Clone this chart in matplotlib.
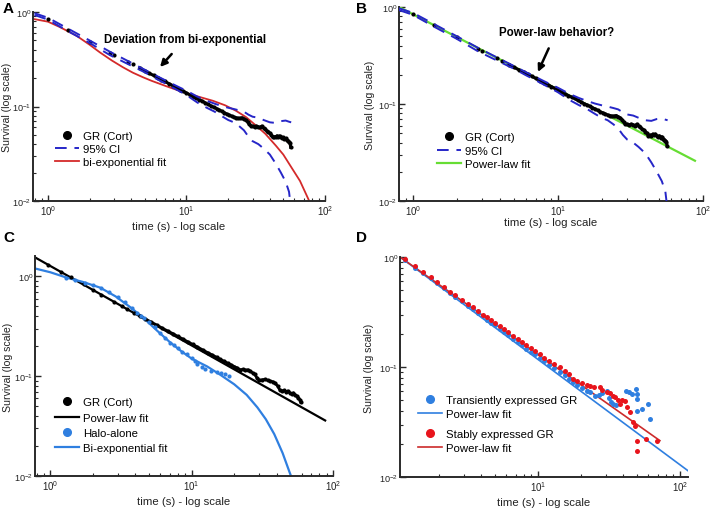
import matplotlib
matplotlib.use("Agg")
import matplotlib.pyplot as plt
from matplotlib.lines import Line2D

plt.rcParams['font.family'] = ['Liberation Sans', 'DejaVu Sans']
plt.rcParams['mathtext.default'] = 'regular'

# ---------------- data ----------------
# GR (Cort) survival, panels A and B
gr_t = [1.0, 1.4, 2.0, 2.8, 3.0, 3.8, 4.1, 4.6, 5.0, 5.4, 5.8, 6.2, 6.6, 7.0, 7.5, 8.0, 8.5, 9.0, 9.5,
        10, 10.6, 11.2, 11.8, 12.4, 13, 13.7, 14.4, 15.1, 15.8, 16.5, 17.2, 18, 18.8, 19.6, 20.4, 21.2,
        22, 22.8, 23.6, 24.4, 25.2, 26, 26.8, 27.6, 28.4, 29.2, 30, 31, 32, 33, 34, 35, 36, 37, 38, 39,
        40, 41, 42, 43, 44, 45, 46, 47, 48, 49, 50, 51, 52, 53, 54, 55, 56, 56.5]
gr_s = [0.85, 0.645, 0.485, 0.37, 0.355, 0.295, 0.28, 0.255, 0.238, 0.224, 0.213, 0.202, 0.193, 0.184,
        0.174, 0.166, 0.158, 0.151, 0.145, 0.139, 0.133, 0.127, 0.122, 0.118, 0.114, 0.109, 0.105, 0.101,
        0.098, 0.095, 0.092, 0.089, 0.086, 0.083, 0.081, 0.079, 0.077, 0.076, 0.075, 0.075, 0.076, 0.074,
        0.072, 0.069, 0.065, 0.062, 0.062, 0.061, 0.062, 0.061, 0.060, 0.062, 0.059, 0.058, 0.055, 0.054,
        0.052, 0.050, 0.047, 0.048, 0.047, 0.049, 0.048, 0.049, 0.047, 0.046, 0.047, 0.045, 0.046, 0.044,
        0.043, 0.042, 0.041, 0.037]

ci_t = [0.8, 1.0, 1.4, 2.0, 2.8, 4.0, 5.0, 6.0, 7.0, 8.0, 9.0, 10, 12, 14, 16, 18, 20, 22, 24, 26, 28,
        30, 33, 36, 40, 44, 48, 52, 55, 57]
ci_upper = [0.97, 0.87, 0.665, 0.50, 0.38, 0.29, 0.245, 0.213, 0.19, 0.172, 0.158, 0.147, 0.127, 0.115,
            0.107, 0.101, 0.097, 0.094, 0.091, 0.088, 0.082, 0.078, 0.076, 0.072, 0.068, 0.067, 0.070,
            0.071, 0.069, 0.068]
ci_lower = [0.93, 0.83, 0.625, 0.47, 0.35, 0.27, 0.23, 0.198, 0.176, 0.158, 0.144, 0.132, 0.110, 0.097,
            0.088, 0.079, 0.072, 0.068, 0.062, 0.056, 0.048, 0.043, 0.040, 0.036, 0.031, 0.025, 0.020,
            0.016, 0.0125, 0.008]

# bi-exponential fit (A)
biexp_a_t = [0.8, 1.0, 1.2, 1.44, 1.61, 2.0, 2.37, 2.9, 3.48, 4.1, 4.85, 5.6, 6.4, 7.14, 8.5, 9.95, 12,
             15.5, 19, 22.8, 27, 31.7, 37, 44.2, 50, 58.2, 66, 76.7, 80]
biexp_a_s = [0.84, 0.79, 0.70, 0.61, 0.56, 0.45, 0.374, 0.306, 0.26, 0.228, 0.204, 0.187, 0.174, 0.164,
             0.150, 0.139, 0.128, 0.115, 0.103, 0.090, 0.077, 0.063, 0.0516, 0.0385, 0.031, 0.0218,
             0.0163, 0.0101, 0.0085]

# power-law fit (B)
pl_b_t = [0.8, 88]
pl_b_s = [1.0, 0.026]

# panel C
grc_t = [0.97, 1.2, 1.4, 1.72, 2.0, 2.3, 2.81, 3.2, 3.5, 3.9, 4.3, 4.7, 5.2, 5.7, 6.2, 6.8, 7.4, 8.0,
         8.7, 9.4, 10.2, 11, 12, 13, 14, 15, 16, 17, 18, 19, 20, 21, 22, 23, 24, 25, 26, 27, 28, 29, 30,
         31.5, 33, 34.5, 36, 37.5, 39, 40.5, 42, 43.5, 45, 46.5, 48, 49.5, 51, 52.5, 54, 55.5, 57, 58.5, 59]
grc_s = [1.31, 1.10, 0.975, 0.83, 0.735, 0.655, 0.555, 0.505, 0.47, 0.43, 0.40, 0.375, 0.347, 0.324,
         0.303, 0.283, 0.266, 0.25, 0.235, 0.221, 0.208, 0.196, 0.183, 0.172, 0.163, 0.155, 0.147, 0.141,
         0.135, 0.130, 0.125, 0.121, 0.116, 0.117, 0.115, 0.116, 0.112, 0.108, 0.104, 0.096, 0.091,
         0.092, 0.093, 0.091, 0.089, 0.088, 0.085, 0.080, 0.073, 0.071, 0.072, 0.070, 0.071, 0.068,
         0.067, 0.068, 0.065, 0.063, 0.060, 0.058, 0.055]
pl_c_t = [0.78, 88]
pl_c_s = [1.55, 0.036]

halo_t = [1.3, 1.5, 1.77, 2.0, 2.3, 2.6, 3.0, 3.4, 3.8, 4.12, 4.4, 4.6, 5.0, 5.5, 6.0, 6.5, 7.0, 7.5, 8.0,
          8.6, 9.2, 10, 10.5, 11, 11.9, 12.5, 13.6, 15.0, 16.1, 17.2, 18.4]
halo_s = [0.97, 0.93, 0.865, 0.82, 0.76, 0.70, 0.62, 0.55, 0.48, 0.43, 0.40, 0.386, 0.35, 0.31, 0.27,
          0.24, 0.215, 0.205, 0.19, 0.176, 0.165, 0.152, 0.142, 0.133, 0.123, 0.118, 0.112, 0.110, 0.108,
          0.105, 0.100]
biexp_c_t = [0.78, 1.0, 1.31, 1.7, 2.26, 2.9, 3.69, 4.6, 5.71, 7.0, 8.36, 10, 12.9, 16, 20, 24.5, 29.2,
             33.5, 38.4, 44, 50.4, 52]
biexp_c_s = [1.20, 1.10, 0.97, 0.88, 0.77, 0.63, 0.49, 0.38, 0.285, 0.22, 0.18, 0.15, 0.125, 0.103,
             0.083, 0.065, 0.0486, 0.037, 0.0263, 0.017, 0.010, 0.0088]

# panel D
stable_t = [1.16, 1.36, 1.56, 1.76, 1.96, 2.19, 2.4, 2.6, 2.9, 3.23, 3.5, 3.8, 4.1, 4.4, 4.7, 5.0, 5.4,
            5.8, 6.2, 6.7, 7.2, 7.7, 8.3, 8.9, 9.5, 10.3, 11, 12, 13, 14.3, 15.5, 16.5, 17.7, 19, 20.5,
            22, 23.2, 25, 27.3, 28.5, 30.5, 32, 33.9, 35, 36.5, 37.8, 39, 41, 42.7, 44.5, 46.9, 48.2,
            49.5, 50, 58, 68.5]
stable_s = [0.95, 0.82, 0.73, 0.655, 0.59, 0.53, 0.48, 0.45, 0.41, 0.375, 0.35, 0.325, 0.30, 0.282,
            0.266, 0.252, 0.235, 0.22, 0.207, 0.193, 0.18, 0.17, 0.158, 0.148, 0.14, 0.131, 0.122, 0.113,
            0.106, 0.099, 0.092, 0.087, 0.078, 0.075, 0.071, 0.069, 0.0676, 0.066, 0.0655, 0.062, 0.059,
            0.058, 0.055, 0.053, 0.050, 0.046, 0.050, 0.049, 0.043, 0.0387, 0.0314, 0.0292, 0.0214,
            0.0174, 0.0222, 0.0214]
trans_t = [1.16, 1.36, 1.56, 1.76, 1.96, 2.19, 2.4, 2.6, 2.9, 3.23, 3.5, 3.8, 4.1, 4.4, 4.7, 5.0, 5.4,
           5.8, 6.2, 6.7, 7.2, 7.7, 8.3, 8.9, 9.5, 10.3, 11, 12, 13, 14.3, 15.5, 16.5, 17.7, 19, 20.5, 22,
           23.2, 25.2, 27, 28.5, 30.5, 31.5, 32.7, 34, 35.6, 42, 43.5, 45.7, 49, 49.5, 49.8, 50, 54.5,
           59.9, 61.5]
trans_s = [0.93, 0.80, 0.71, 0.64, 0.577, 0.52, 0.47, 0.435, 0.395, 0.36, 0.335, 0.31, 0.288, 0.27,
           0.253, 0.24, 0.223, 0.207, 0.195, 0.181, 0.169, 0.159, 0.147, 0.138, 0.13, 0.121, 0.113, 0.104,
           0.097, 0.09, 0.084, 0.078, 0.0726, 0.068, 0.064, 0.061, 0.059, 0.055, 0.056, 0.058, 0.061,
           0.052, 0.0478, 0.046, 0.045, 0.061, 0.059, 0.057, 0.0635, 0.057, 0.051, 0.040, 0.0415, 0.046,
           0.0337]
pl_trans_t = [1.07, 114]
pl_trans_s = [1.0, 0.0114]
pl_stable_t = [1.07, 72.3]
pl_stable_s = [1.0, 0.0214]

# ---------------- styling ----------------
W, H = 710, 510
fig = plt.figure(figsize=(W / 100, H / 100), dpi=100)


def rect(l, t, r, b):
    return [l / W, 1 - b / H, (r - l) / W, (b - t) / H]


FS = 8.2
BLUE_CI = '#2626c8'
GREEN = '#66dd33'
RED_FIT = '#d42a2a'
LBLUE = '#2f7fe0'
RED_D = '#e8141c'
RED_DFIT = '#cc2b2b'


def style(ax, xlim, ylim, xl_y, yl_x):
    ax.set_xscale('log')
    ax.set_yscale('log')
    ax.set_xlim(*xlim)
    ax.set_ylim(*ylim)
    for s in ['top', 'right']:
        ax.spines[s].set_visible(False)
    for s in ['left', 'bottom']:
        ax.spines[s].set_linewidth(1.4)
        ax.spines[s].set_color('#2a2a2a')
    ax.tick_params(which='both', direction='in', top=False, right=False,
                   color='#2a2a2a', labelcolor='#222222')
    ax.tick_params(axis='x', labelsize=7, pad=1.5)
    ax.tick_params(axis='y', labelsize=6.6, pad=1.0)
    ax.tick_params(which='major', length=4, width=1.0)
    ax.tick_params(which='minor', length=2.5, width=0.8)
    ax.set_xlabel('time (s) - log scale', fontsize=FS, color='#222222')
    ax.set_ylabel('Survival (log scale)', fontsize=7.6, color='#222222')
    ax.xaxis.set_label_coords(0.5, xl_y)
    ax.yaxis.set_label_coords(yl_x, 0.5)


def legend(ax, handles, labels, x0, y0, spacing=0.2):
    return ax.legend(handles, labels, loc='upper left', bbox_to_anchor=(x0, y0), frameon=False,
                     fontsize=FS, borderpad=0, borderaxespad=0, handlelength=2.1, handletextpad=0.35,
                     labelspacing=spacing)


def split_dense(t, s, t0):
    # index of first sample at/after t0: dense part drawn as a connected band
    i = next(k for k, v in enumerate(t) if v >= t0)
    return t[i:], s[i:]


dot = dict(marker='o', linestyle='none', mew=0)

# ---- A ----
axA = fig.add_axes(rect(33, 13, 325, 202))
dA_t, dA_s = split_dense(gr_t, gr_s, 4.6)
axA.plot(dA_t, dA_s, color='black', lw=2.2, zorder=3)
axA.plot(gr_t, gr_s, color='black', ms=3, zorder=3, **dot)
axA.plot(ci_t, ci_upper, color=BLUE_CI, lw=1.4, dashes=(6, 4), zorder=4)
axA.plot(ci_t, ci_lower, color=BLUE_CI, lw=1.4, dashes=(6, 4), zorder=4)
axA.plot(biexp_a_t, biexp_a_s, color=RED_FIT, lw=1.3, zorder=2)
style(axA, (0.78, 100), (0.01, 1), -0.105, -0.073)
hA = [Line2D([], [], color='black', marker='o', ms=5.5, linestyle='none'),
      Line2D([], [], color=BLUE_CI, lw=1.4, dashes=(6, 4)),
      Line2D([], [], color=RED_FIT, lw=1.3)]
legend(axA, hA, ['GR (Cort)', '95% CI', 'bi-exponential fit'], 0.075, 0.373, spacing=0.3)
axA.annotate('Deviation from bi-exponential', xy=(0.435, 0.709), xytext=(0.521, 0.857),
             xycoords='axes fraction', textcoords='axes fraction', ha='center', va='center',
             fontsize=8.3, fontweight='bold',
             arrowprops=dict(arrowstyle='-|>', lw=1.8, color='black', mutation_scale=10,
                             shrinkA=6, shrinkB=0))

# ---- B ----
axB = fig.add_axes(rect(399, 8, 703, 202))
axB.plot(pl_b_t, pl_b_s, color=GREEN, lw=1.6, zorder=2)
dB_t, dB_s = split_dense(gr_t, gr_s, 4.6)
axB.plot(dB_t, dB_s, color='black', lw=2.2, zorder=3)
axB.plot(gr_t, gr_s, color='black', ms=3, zorder=3, **dot)
axB.plot(ci_t, ci_upper, color=BLUE_CI, lw=1.4, dashes=(6, 4), zorder=4)
axB.plot(ci_t, ci_lower, color=BLUE_CI, lw=1.4, dashes=(6, 4), zorder=4)
style(axB, (0.8, 100), (0.01, 1), -0.085, -0.078)
hB = [Line2D([], [], color='black', marker='o', ms=5.5, linestyle='none'),
      Line2D([], [], color=BLUE_CI, lw=1.4, dashes=(6, 4)),
      Line2D([], [], color=GREEN, lw=1.6)]
legend(axB, hB, ['GR (Cort)', '95% CI', 'Power-law fit'], 0.125, 0.355, spacing=0.3)
axB.annotate('Power-law behavior?', xy=(0.457, 0.665), xytext=(0.517, 0.871),
             xycoords='axes fraction', textcoords='axes fraction', ha='center', va='center',
             fontsize=8.3, fontweight='bold',
             arrowprops=dict(arrowstyle='-|>', lw=1.8, color='black', mutation_scale=10,
                             shrinkA=6, shrinkB=0))

# ---- C ----
axC = fig.add_axes(rect(35, 257, 333, 477))
dC_t, dC_s = split_dense(grc_t, grc_s, 4.3)
axC.plot(dC_t, dC_s, color='black', lw=2.0, zorder=3)
axC.plot(grc_t, grc_s, color='black', ms=3, zorder=3, **dot)
axC.plot(pl_c_t, pl_c_s, color='black', lw=1.6, zorder=2)
axC.plot(halo_t, halo_s, color=LBLUE, ms=3, zorder=3, **dot)
axC.plot(biexp_c_t, biexp_c_s, color=LBLUE, lw=1.6, zorder=2)
style(axC, (0.78, 100), (0.01, 1.6), -0.09, -0.075)
hC = [Line2D([], [], color='black', marker='o', ms=5.5, linestyle='none'),
      Line2D([], [], color='black', lw=1.6),
      Line2D([], [], color=LBLUE, marker='o', ms=5.5, linestyle='none'),
      Line2D([], [], color=LBLUE, lw=1.6)]
legend(axC, hC, ['GR (Cort)', 'Power-law fit', 'Halo-alone', 'Bi-exponential fit'], 0.067, 0.357,
       spacing=0.45)

# ---- D ----
axD = fig.add_axes(rect(400, 258, 688, 478))
axD.plot(pl_trans_t, pl_trans_s, color=LBLUE, lw=1.2, zorder=2)
axD.plot(pl_stable_t, pl_stable_s, color=RED_DFIT, lw=1.2, zorder=2)
axD.plot(trans_t, trans_s, color=LBLUE, ms=3.6, zorder=3, **dot)
axD.plot(stable_t, stable_s, color=RED_D, ms=3.6, zorder=4, **dot)
style(axD, (1.07, 114), (0.01, 1), -0.09, -0.09)
hD1 = [Line2D([], [], color=LBLUE, marker='o', ms=5.5, linestyle='none'),
       Line2D([], [], color=LBLUE, lw=1.2)]
hD2 = [Line2D([], [], color=RED_D, marker='o', ms=5.5, linestyle='none'),
       Line2D([], [], color=RED_DFIT, lw=1.2)]
lg1 = legend(axD, hD1, ['Transiently expressed GR', 'Power-law fit'], 0.0625, 0.372, spacing=0.35)
axD.add_artist(lg1)
legend(axD, hD2, ['Stably expressed GR', 'Power-law fit'], 0.0625, 0.22, spacing=0.35)

# panel letters
for letter, (px, py) in zip('ABCD', [(3, 2), (356, 2), (3, 231), (356, 231)]):
    fig.text(px / W, 1 - py / H, letter, fontsize=11, fontweight='bold', va='top', ha='left')

fig.savefig('out.png', dpi=100)
